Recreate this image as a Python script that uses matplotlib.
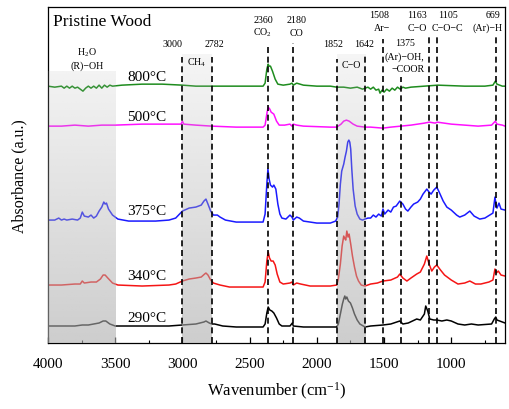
import numpy as np
import matplotlib
matplotlib.use("Agg")
import matplotlib.pyplot as plt
from matplotlib.ticker import MultipleLocator

plt.rcParams['font.family'] = ['Liberation Serif', 'DejaVu Serif']
plt.rcParams['mathtext.fontset'] = 'custom'
plt.rcParams['mathtext.rm'] = 'Liberation Serif'
plt.rcParams['mathtext.it'] = 'Liberation Serif:italic'

# ---------------- data (arbitrary absorbance units) ----
wn_800 = [4000, 3950, 3900, 3880, 3860, 3840, 3820, 3800, 3780, 3760, 3740, 3720, 3700, 3680,
          3660, 3640, 3620, 3600, 3580, 3560, 3540, 3520, 3450, 3300, 3150, 3000, 2900, 2782,
          2600, 2400, 2385, 2372, 2362, 2355, 2345, 2330, 2310, 2290, 2250, 2200, 2185, 2175,
          2150, 2100, 2000, 1900, 1852, 1800, 1750, 1700, 1660, 1620, 1600, 1580, 1560, 1540,
          1530, 1515, 1500, 1480, 1460, 1440, 1420, 1400, 1380, 1360, 1340, 1300, 1200, 1100,
          900, 750, 690, 672, 660, 620, 600]
ab_800 = [257, 256, 257, 255, 257, 255, 257, 255, 256, 254, 252, 255, 257, 255,
          257, 255, 258, 255, 258, 256, 258, 257, 258, 259, 259, 258, 257, 257,
          257, 257, 260, 274, 279, 277, 277, 272, 264, 259, 258, 259, 260, 258,
          260, 258, 257, 257, 256, 256, 255, 256, 254, 256, 254, 256, 253, 254,
          250, 253, 251, 254, 252, 255, 253, 256, 254, 256, 255, 256, 257, 258,
          257, 257, 258, 262, 259, 257, 257]

wn_500 = [4000, 3900, 3800, 3700, 3600, 3500, 3300, 3100, 3010, 3000, 2990, 2900, 2782, 2600,
          2400, 2385, 2370, 2362, 2350, 2340, 2320, 2300, 2280, 2240, 2200, 2185, 2175, 2150,
          2100, 1900, 1852, 1820, 1800, 1780, 1760, 1730, 1700, 1642, 1600, 1508, 1450, 1375,
          1300, 1200, 1163, 1120, 1105, 1000, 800, 700, 672, 660, 620, 600]
ab_500 = [217, 217, 218, 217, 218, 218, 219, 219, 219, 222, 219, 218, 217, 216,
          216, 218, 231, 236, 234, 231, 229, 222, 218, 218, 219, 217, 219, 218,
          217, 216, 216, 219, 222, 223, 222, 219, 217, 216, 216, 215, 216, 217,
          218, 220, 221, 220, 221, 219, 217, 218, 222, 219, 218, 217]

wn_375 = [4000, 3950, 3920, 3900, 3880, 3860, 3820, 3780, 3760, 3745, 3730, 3700, 3680, 3660,
          3640, 3620, 3600, 3585, 3575, 3565, 3550, 3520, 3480, 3400, 3200, 3100, 3050, 3000,
          2950, 2900, 2860, 2840, 2825, 2810, 2790, 2770, 2740, 2720, 2680, 2600, 2400, 2385,
          2372, 2364, 2355, 2345, 2330, 2320, 2305, 2290, 2275, 2260, 2230, 2200, 2185, 2175,
          2150, 2130, 2100, 2000, 1900, 1860, 1845, 1835, 1825, 1815, 1800, 1790, 1780, 1770,
          1762, 1755, 1748, 1740, 1730, 1715, 1700, 1680, 1660, 1642, 1620, 1600, 1580, 1560,
          1540, 1520, 1508, 1495, 1470, 1450, 1430, 1410, 1383, 1360, 1340, 1323, 1300, 1280,
          1250, 1230, 1210, 1182, 1165, 1150, 1130, 1108, 1090, 1060, 1033, 1000, 960, 937,
          900, 862, 830, 788, 750, 714, 690, 675, 668, 660, 645, 630, 600]
ab_375 = [123, 123, 125, 123, 124, 123, 124, 123, 125, 131, 127, 126, 128, 125,
          127, 132, 136, 141, 139, 140, 134, 128, 124, 122, 122, 123, 125, 132,
          135, 136, 138, 142, 144, 139, 132, 128, 128, 126, 123, 121, 121, 129,
          159, 174, 164, 158, 156, 158, 154, 139, 129, 125, 124, 128, 126, 123,
          126, 125, 122, 120, 120, 122, 126, 139, 159, 172, 179, 186, 192, 201,
          203, 201, 194, 174, 154, 137, 129, 124, 123, 124, 125, 125, 128, 126,
          129, 127, 134, 129, 133, 131, 136, 137, 142, 139, 134, 132, 136, 139,
          141, 144, 149, 154, 151, 149, 153, 156, 151, 142, 136, 133, 128, 126,
          128, 132, 127, 124, 125, 128, 130, 146, 139, 135, 140, 134, 133]

wn_340 = [4000, 3900, 3800, 3760, 3745, 3730, 3680, 3640, 3610, 3590, 3575, 3555, 3520, 3480,
          3300, 3100, 3050, 3000, 2950, 2900, 2860, 2835, 2825, 2810, 2790, 2770, 2720, 2650,
          2400, 2385, 2372, 2362, 2352, 2340, 2325, 2310, 2295, 2275, 2250, 2200, 2185, 2175,
          2150, 2120, 2050, 1900, 1852, 1840, 1825, 1812, 1800, 1790, 1785, 1777, 1768, 1760,
          1748, 1735, 1720, 1705, 1690, 1670, 1642, 1600, 1550, 1508, 1450, 1400, 1383, 1360,
          1330, 1300, 1257, 1230, 1200, 1182, 1165, 1145, 1125, 1108, 1080, 1050, 1000, 950,
          900, 862, 820, 780, 720, 690, 675, 665, 650, 630, 600]
ab_340 = [58, 58, 59, 59, 62, 60, 61, 61, 64, 68, 68, 65, 60, 58,
          57, 58, 59, 62, 64, 65, 66, 69, 70, 68, 63, 60, 58, 56,
          56, 61, 82, 91, 85, 82, 82, 78, 69, 61, 59, 60, 61, 58,
          60, 59, 57, 57, 58, 64, 79, 97, 107, 104, 103, 112, 106, 109,
          99, 87, 76, 67, 62, 58, 57, 59, 60, 62, 63, 66, 69, 65,
          62, 65, 69, 71, 79, 87, 79, 72, 76, 78, 73, 68, 63, 59,
          60, 62, 59, 59, 61, 63, 74, 70, 72, 68, 67]

wn_290 = [4000, 3800, 3745, 3700, 3620, 3590, 3570, 3540, 3500, 3100, 3000, 2900, 2840, 2825,
          2800, 2782, 2760, 2700, 2600, 2400, 2385, 2372, 2362, 2350, 2335, 2320, 2300, 2280,
          2260, 2200, 2182, 2175, 2100, 1852, 1840, 1825, 1810, 1800, 1792, 1785, 1777, 1765,
          1750, 1735, 1720, 1700, 1680, 1642, 1600, 1508, 1450, 1383, 1360, 1320, 1257, 1230,
          1200, 1190, 1175, 1160, 1130, 1108, 1070, 1033, 1000, 950, 900, 850, 800, 700,
          680, 669, 660, 640, 600]
ab_290 = [17, 17, 18, 18, 20, 22, 22, 19, 17, 17, 18, 19, 21, 22,
          20, 19, 19, 17, 16, 16, 19, 30, 36, 33, 32, 30, 25, 19,
          17, 17, 20, 17, 16, 16, 19, 29, 39, 44, 47, 44, 46, 42,
          40, 35, 29, 23, 19, 16, 17, 18, 19, 22, 19, 20, 24, 23,
          29, 37, 32, 24, 23, 23, 22, 23, 22, 19, 18, 19, 18, 19,
          24, 26, 23, 22, 20]

temps = ['290°C', '340°C', '375°C', '500°C', '800°C']
temp_label_y = [26, 68, 133, 227, 267]
temp_label_x = 3264

# marked bands (wavenumber) and their labels
band_pos = [3000, 2782, 2360, 2180, 1852, 1642, 1508, 1375, 1163, 1105, 669]
band_top = [286, 286, 299, 300, 284, 287, 304, 266, 307, 307, 306]
shade_regions = [(4000, 3500, 272), (3000, 2782, 289), (1852, 1642, 289)]

# ---------------- figure --------------------------------------------------------
fig = plt.figure(figsize=(5.09, 4.10), dpi=100)
ax = fig.add_axes([0.0943, 0.161, 0.8987, 0.819])

series = [(wn_290, ab_290, 'black'), (wn_340, ab_340, '#f51515'),
          (wn_375, ab_375, '#1a1aff'), (wn_500, ab_500, '#ff10ff'),
          (wn_800, ab_800, '#1e8c1e')]
for wn, ab, c in series:
    ax.plot(wn, ab, color=c, lw=1.1, zorder=2)

# gray gradient shading over the curves
for x0, x1, ytop in shade_regions:
    n = 200
    yy = np.linspace(0, ytop, n)
    alpha = 0.62 - (yy / 289.0) * 0.50
    img = np.zeros((n, 2, 4))
    img[..., :3] = 175 / 255
    img[..., 3] = alpha[:, None]
    ax.imshow(img, extent=(x0, x1, 0, ytop), origin='lower', aspect='auto',
              zorder=3, interpolation='bilinear')

ax.vlines(band_pos, 0, band_top, colors='black', linestyles=(0, (3.6, 2.2)),
          lw=1.2, zorder=4)

ax.set_xlim(4000, 597)
ax.set_ylim(0, 336)

# temperature labels
for t, y in zip(temps, temp_label_y):
    ax.text(temp_label_x, y, t, ha='center', va='center', fontsize=11, zorder=5)

ax.text(3963, 322, 'Pristine Wood', ha='left', va='center', fontsize=12.5)

fs = 7.2
ann = [
    (3710, 291, 'H$_2$O'), (3710, 278, '(R)−OH'),
    (3071, 300, '3000'), (2766, 300, '2782'), (2892, 281, 'CH$_4$'),
    (2401, 324, '2360'), (2401, 311, 'CO$_2$'),
    (2149, 324, '2180'), (2149, 311, 'CO'),
    (1881, 300, '1852'), (1651, 300, '1642'), (1747, 279, 'C−O'),
    (1539, 329, '1508'), (1517, 316, 'Ar−'),
    (1346, 301, '1375'), (1346, 287, '(Ar)−OH,'), (1323, 275, '−COOR'),
    (1257, 329, '1163'), (1249, 316, 'C−O'),
    (1026, 329, '1105'), (1026, 316, 'C−O−C'),
    (691, 329, '669'), (729, 316, '(Ar)−H'),
]
for x, y, s in ann:
    ax.text(x, y, s, ha='center', va='center', fontsize=fs, zorder=5, clip_on=True)

ax.set_yticks([])
ax.xaxis.set_major_locator(MultipleLocator(500))
ax.xaxis.set_minor_locator(MultipleLocator(250))
ax.set_xticks([4000, 3500, 3000, 2500, 2000, 1500, 1000])
ax.tick_params(axis='x', which='major', direction='in', length=4, width=0.9,
               labelsize=11, pad=10)
ax.tick_params(axis='x', which='minor', direction='in', length=2.5, width=0.8)
for sp in ax.spines.values():
    sp.set_linewidth(0.9)

ax.set_xlabel('Wavenumber (cm$^{-1}$)', fontsize=12, labelpad=7)
ax.set_ylabel('Absorbance (a.u.)', fontsize=11.5, labelpad=15)

fig.savefig('out.png', dpi=100)
